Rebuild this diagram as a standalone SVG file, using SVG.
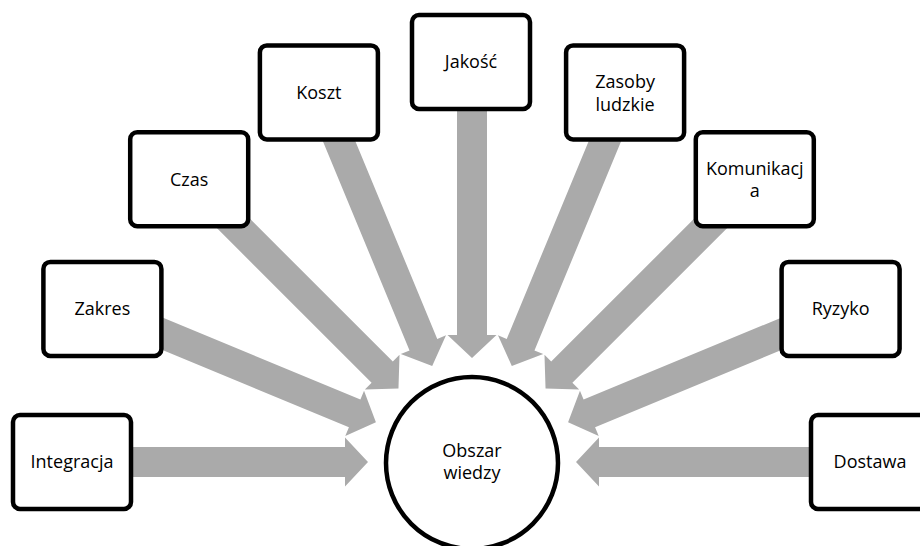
<svg xmlns="http://www.w3.org/2000/svg" xmlns:xlink="http://www.w3.org/1999/xlink" width="920" height="546" viewBox="0 0 920 546">
  <style>
    .box { fill: #ffffff; stroke: #000000; stroke-width: 4.5; }
    .hub { fill: #ffffff; stroke: #000000; stroke-width: 4.5; }
    .lbl { font-family: "Open Sans", "Liberation Sans", sans-serif; font-size: 18px; fill: #000000; text-anchor: middle; }
    .arrow { fill: #aaaaaa; }
  </style>
  <defs>
    <!-- block arrow pointing at the hub centre (origin), coming in from the left -->
    <path id="spoke" class="arrow" d="M-400,-15 H-127 V-24.5 L-104,0 L-127,24.5 V15 H-400 Z"/>
  </defs>

  <rect width="920" height="546" fill="#ffffff"/>

  <g id="connectors">
    <use xlink:href="#spoke" transform="translate(472,462) rotate(0)"/>
    <use xlink:href="#spoke" transform="translate(472,462) rotate(22.5)"/>
    <use xlink:href="#spoke" transform="translate(472,462) rotate(45)"/>
    <use xlink:href="#spoke" transform="translate(472,462) rotate(67.5)"/>
    <use xlink:href="#spoke" transform="translate(472,462) rotate(90)"/>
    <use xlink:href="#spoke" transform="translate(472,462) rotate(112.5)"/>
    <use xlink:href="#spoke" transform="translate(472,462) rotate(135)"/>
    <use xlink:href="#spoke" transform="translate(472,462) rotate(157.5)"/>
    <use xlink:href="#spoke" transform="translate(472,462) rotate(180)"/>
  </g>

  <g id="obszar-wiedzy">
    <circle class="hub" cx="472" cy="463" r="86"/>
    <text class="lbl" x="472" y="457">Obszar</text>
    <text class="lbl" x="472" y="479">wiedzy</text>
  </g>

  <g id="integracja">
    <rect class="box" x="13" y="415" width="118" height="94" rx="7"/>
    <text class="lbl" x="72" y="468">Integracja</text>
  </g>

  <g id="zakres">
    <rect class="box" x="43.4" y="261.9" width="118" height="94" rx="7"/>
    <text class="lbl" x="102.4" y="315">Zakres</text>
  </g>

  <g id="czas">
    <rect class="box" x="130.2" y="132.2" width="118" height="94" rx="7"/>
    <text class="lbl" x="189.2" y="185.5">Czas</text>
  </g>

  <g id="koszt">
    <rect class="box" x="259.9" y="45.4" width="118" height="94" rx="7"/>
    <text class="lbl" x="318.9" y="99">Koszt</text>
  </g>

  <g id="jakosc">
    <rect class="box" x="412" y="15" width="118" height="94" rx="7"/>
    <text class="lbl" x="471" y="68">Jakość</text>
  </g>

  <g id="zasoby-ludzkie">
    <rect class="box" x="566.1" y="45.4" width="118" height="94" rx="7"/>
    <text class="lbl" x="625.1" y="88">Zasoby</text>
    <text class="lbl" x="625.1" y="111">ludzkie</text>
  </g>

  <g id="komunikacja">
    <rect class="box" x="695.8" y="132.2" width="118" height="94" rx="7"/>
    <text class="lbl" x="754.8" y="175">Komunikacj</text>
    <text class="lbl" x="754.8" y="197">a</text>
  </g>

  <g id="ryzyko">
    <rect class="box" x="781.6" y="261.9" width="118" height="94" rx="7"/>
    <text class="lbl" x="840.6" y="315">Ryzyko</text>
  </g>

  <g id="dostawa">
    <rect class="box" x="811" y="415" width="118" height="94" rx="7"/>
    <text class="lbl" x="870" y="468">Dostawa</text>
  </g>
</svg>
